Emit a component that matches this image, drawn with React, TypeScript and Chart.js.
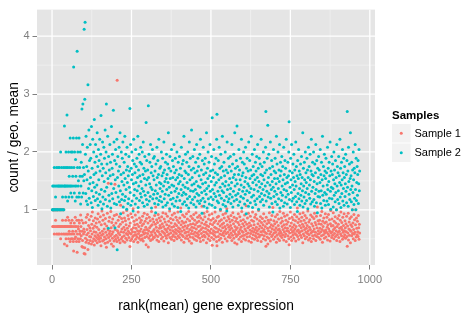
import { useEffect, useRef } from "react";
import { Chart, registerables } from "chart.js";

Chart.register(...registerables);

const FONT = "'Liberation Sans', Arial, Helvetica, sans-serif";

const legendTitle = "Samples";
const seriesNames = ["Sample 1", "Sample 2"];
const seriesColors = ["#F8766D", "#00BFC4"];
const xTitle = "rank(mean) gene expression";
const yTitle = "count / geo. mean";
const xTicks = [0, 250, 500, 750, 1000];
const xMinor = [125, 375, 625, 875];
const yTicks = [1, 2, 3, 4];
const yMinor = [0.5, 1.5, 2.5, 3.5];

// count / geo. mean per gene, in rank(mean) order (rank = index + 1)
const sample1 = [
  1.00, 0.71, 1.00, 1.00, 0.71, 1.00, 0.58, 1.00, 0.71, 1.00, 0.82, 1.00, 0.71, 0.58, 1.00, 1.00, 0.71, 1.00, 0.58, 0.71,
  1.00, 0.71, 0.58, 1.00, 0.71, 1.00, 0.50, 0.71, 1.00, 0.58, 0.71, 1.00, 0.82, 0.71, 1.00, 0.58, 1.00, 0.71, 0.41, 0.71,
  0.58, 0.71, 0.82, 0.50, 0.71, 0.58, 0.38, 0.71, 0.87, 0.58, 0.71, 0.50, 0.82, 0.63, 0.71, 0.58, 0.45, 0.71, 0.77, 0.50,
  0.71, 0.58, 0.82, 0.50, 0.63, 0.71, 0.45, 0.288, 0.58, 0.77, 0.50, 0.71, 0.87, 0.53, 0.63, 0.71, 0.45, 0.82, 0.267, 0.58,
  0.50, 0.71, 0.67, 0.82, 0.45, 0.77, 0.58, 0.63, 0.50, 0.91, 0.71, 0.55, 0.82, 0.365, 0.63, 0.47, 0.353, 0.77, 0.58, 0.67,
  0.243, 0.62, 0.344, 0.236, 0.51, 0.78, 0.44, 0.87, 0.57, 0.66, 0.48, 0.92, 0.316, 0.60, 0.73, 0.42, 0.83, 0.54, 0.69, 0.47,
  0.64, 0.53, 0.89, 0.41, 0.75, 0.58, 0.96, 0.45, 0.68, 0.81, 0.50, 0.62, 0.39, 0.72, 0.55, 0.86, 0.47, 0.61, 0.77, 0.52,
  0.70, 0.43, 0.84, 0.57, 0.93, 0.49, 0.66, 0.54, 0.79, 0.45, 0.60, 0.88, 0.51, 0.38, 0.74, 0.56, 0.98, 0.63, 0.46, 0.82,
  0.58, 0.91, 0.48, 0.67, 0.53, 0.76, 0.42, 0.85, 0.61, 0.50, 0.353, 0.72, 0.56, 0.94, 0.44, 0.65, 1.46, 0.52, 0.80, 0.59,
  0.87, 0.47, 0.63, 0.55, 0.97, 0.69, 0.41, 0.78, 0.58, 0.51, 0.84, 0.62, 0.368, 0.73, 0.46, 0.90, 0.54, 1.44, 0.66, 0.49,
  0.77, 0.56, 0.92, 0.45, 3.24, 0.64, 0.52, 0.82, 0.60, 0.71, 0.48, 0.88, 0.57, 0.43, 0.75, 1.08, 0.62, 0.50, 0.85, 0.67,
  0.53, 0.79, 0.46, 0.95, 0.61, 0.70, 0.55, 0.86, 0.44, 0.65, 0.81, 0.51, 0.74, 0.59, 0.99, 0.48, 0.68, 0.57, 0.90, 0.63,
  0.84, 0.52, 0.72, 0.60, 0.364, 0.77, 0.47, 0.93, 0.58, 0.66, 0.50, 0.87, 0.62, 0.54, 1.02, 0.69, 0.45, 0.80, 0.56, 0.74,
  0.61, 0.91, 0.49, 0.68, 0.57, 0.83, 0.53, 0.75, 0.64, 0.44, 0.96, 0.59, 0.71, 0.51, 0.86, 0.63, 0.55, 0.78, 0.48, 0.67,
  0.82, 0.56, 0.73, 0.50, 0.89, 0.62, 0.46, 0.76, 0.58, 0.94, 0.65, 0.52, 0.80, 0.60, 0.70, 0.398, 0.85, 0.54, 0.66, 0.92,
  0.59, 0.77, 0.357, 0.64, 0.51, 0.87, 0.69, 0.55, 0.81, 0.47, 0.72, 0.61, 0.97, 0.57, 0.74, 0.49, 0.84, 0.63, 0.53, 0.79,
  0.66, 0.52, 0.90, 0.60, 0.75, 1.05, 0.56, 0.70, 0.83, 0.48, 0.64, 0.78, 0.54, 0.92, 0.62, 0.45, 0.86, 0.68, 0.58, 0.73,
  0.81, 0.57, 0.69, 0.50, 0.88, 0.63, 0.76, 0.53, 0.95, 0.61, 0.71, 0.46, 0.84, 0.59, 0.67, 0.79, 0.55, 0.93, 0.65, 0.51,
  0.74, 0.62, 0.89, 0.56, 0.68, 0.43, 0.80, 0.58, 0.72, 0.98, 0.52, 0.65, 0.85, 0.60, 0.77, 0.49, 0.70, 0.91, 0.54, 0.64,
  0.83, 0.57, 0.71, 0.47, 0.94, 0.61, 0.76, 0.53, 0.66, 0.87, 0.59, 0.73, 0.50, 0.82, 0.64, 0.96, 0.55, 0.69, 0.78, 0.62,
  0.52, 0.86, 0.67, 0.58, 1.03, 0.74, 0.48, 0.63, 0.80, 0.56, 0.91, 0.70, 0.54, 0.77, 0.44, 0.65, 0.88, 0.60, 0.72, 0.51,
  0.79, 0.61, 0.93, 0.55, 0.68, 0.84, 0.50, 0.73, 0.62, 0.97, 0.57, 0.46, 0.81, 0.66, 0.53, 0.75, 0.89, 0.59, 0.42, 0.70,
  0.64, 0.85, 0.52, 0.76, 0.58, 0.92, 0.69, 0.49, 0.82, 0.61, 0.74, 0.55, 0.95, 0.67, 0.47, 0.78, 0.60, 0.87, 0.53, 0.71,
  0.57, 0.80, 0.63, 0.90, 0.51, 0.72, 0.45, 0.86, 0.66, 0.59, 0.77, 1.06, 0.54, 0.69, 0.83, 0.48, 0.62, 0.94, 0.56, 0.75,
  0.88, 0.53, 0.68, 0.61, 0.79, 0.43, 0.73, 0.97, 0.58, 0.65, 0.50, 0.84, 0.71, 0.55, 0.91, 0.63, 0.47, 0.76, 0.60, 0.82,
  0.67, 0.52, 0.93, 0.386, 0.74, 0.59, 0.85, 0.64, 0.49, 0.78, 0.56, 0.70, 0.96, 0.61, 0.81, 0.53, 0.68, 0.45, 0.377, 0.87,
  0.62, 0.76, 0.54, 0.89, 0.66, 0.48, 0.80, 0.58, 0.72, 0.99, 0.51, 0.64, 0.83, 0.57, 0.75, 0.44, 0.69, 0.92, 0.60, 0.77,
  0.55, 0.86, 0.63, 0.71, 0.50, 0.94, 0.67, 0.59, 0.81, 1.02, 0.46, 0.74, 0.61, 0.88, 0.53, 0.70, 0.84, 0.57, 0.65, 0.79,
  0.52, 0.73, 0.90, 0.60, 0.68, 0.47, 0.82, 0.56, 0.95, 0.64, 0.76, 0.51, 0.87, 0.62, 0.43, 0.71, 0.58, 0.80, 0.66, 0.54,
  0.85, 0.408, 0.69, 0.57, 0.78, 0.93, 0.62, 0.49, 0.74, 0.59, 0.88, 0.66, 0.53, 0.81, 0.70, 0.45, 0.97, 0.63, 0.55, 0.76,
  0.61, 0.83, 0.50, 0.72, 0.56, 0.91, 0.67, 0.79, 0.48, 0.64, 1.07, 0.58, 0.75, 0.53, 0.86, 0.69, 0.60, 0.94, 0.46, 0.71,
  0.77, 0.54, 0.65, 0.89, 0.59, 0.73, 0.44, 0.82, 0.63, 0.51, 0.96, 0.68, 0.57, 0.80, 0.62, 0.74, 0.49, 0.87, 0.66, 0.55,
  0.92, 0.60, 0.70, 0.52, 0.84, 0.64, 0.47, 0.76, 0.58, 0.99, 0.67, 0.53, 0.81, 0.72, 0.56, 0.88, 0.62, 0.45, 0.78, 0.69,
  0.57, 0.85, 0.63, 0.74, 0.50, 0.93, 0.66, 0.55, 0.80, 0.61, 0.71, 0.48, 0.370, 0.87, 0.59, 0.76, 0.53, 0.68, 0.407, 0.82,
  0.64, 0.51, 0.78, 0.95, 0.58, 0.70, 0.46, 0.83, 0.62, 0.74, 0.54, 0.90, 0.67, 0.57, 1.04, 0.72, 0.49, 0.81, 0.60, 0.65,
  0.76, 0.53, 0.88, 0.61, 0.69, 0.44, 0.79, 0.56, 0.92, 0.65, 0.50, 0.73, 0.84, 0.59, 0.67, 0.47, 0.97, 0.63, 0.55, 0.77,
  0.60, 0.86, 0.52, 0.71, 0.80, 0.57, 0.66, 0.94, 0.48, 0.74, 0.62, 0.89, 0.54, 0.69, 0.58, 0.82, 0.45, 0.75, 0.64, 0.91,
  0.68, 0.55, 0.79, 0.63, 0.50, 0.397, 0.85, 0.60, 0.72, 0.96, 0.53, 0.66, 0.77, 0.47, 0.87, 0.61, 0.70, 0.56, 0.83, 0.64,
  0.51, 0.74, 0.92, 0.59, 0.67, 0.81, 0.46, 0.71, 0.57, 0.88, 0.63, 1.03, 0.54, 0.78, 0.65, 0.49, 0.84, 0.60, 0.73, 0.93,
  0.62, 0.56, 0.80, 0.69, 0.52, 0.87, 0.64, 0.75, 0.43, 0.95, 0.58, 0.71, 0.82, 0.55, 0.66, 0.90, 0.50, 0.77, 0.61, 0.68,
  0.86, 0.53, 0.73, 0.59, 0.98, 0.64, 0.48, 0.79, 0.57, 0.70, 0.83, 0.51, 0.66, 0.91, 0.60, 0.45, 0.76, 0.62, 0.88, 0.55,
  0.72, 0.63, 0.50, 0.85, 0.67, 0.94, 0.56, 0.78, 0.61, 0.47, 0.74, 0.89, 0.54, 0.69, 1.05, 0.58, 0.81, 0.64, 0.52, 0.76,
  0.59, 0.82, 0.68, 0.49, 0.90, 0.62, 0.75, 0.55, 0.97, 0.66, 0.44, 0.80, 0.71, 0.57, 0.86, 0.63, 0.51, 0.77, 0.60, 0.93,
  0.65, 0.53, 0.79, 0.61, 0.87, 0.70, 0.48, 0.74, 0.58, 0.92, 0.67, 0.55, 0.83, 0.63, 0.46, 0.76, 0.99, 0.60, 0.72, 0.52,
  0.84, 0.62, 0.56, 0.73, 0.95, 0.66, 0.50, 0.80, 0.59, 0.69, 0.88, 0.54, 0.77, 0.64, 1.00, 0.47, 0.71, 0.57, 0.85, 0.61,
  0.75, 0.52, 0.90, 0.63, 0.68, 0.45, 0.82, 0.58, 0.96, 0.70, 0.55, 0.78, 0.66, 0.49, 0.87, 0.61, 0.73, 0.53, 0.93, 0.64,
  0.57, 0.81, 0.69, 0.51, 0.76, 0.62, 0.89, 0.54, 0.370, 0.72, 0.60, 0.94, 0.48, 0.67, 0.79, 0.56, 0.85, 0.65, 0.43, 0.74,
  0.63, 0.88, 0.55, 0.71, 1.00, 0.59, 0.77, 0.50, 0.66, 0.92, 0.58, 0.83, 0.61, 0.47, 0.74, 1.00, 0.53, 0.86, 0.68, 0.57,
  0.80, 0.62, 0.54, 0.90, 0.69, 0.49, 0.75, 0.60,
];

const sample2 = [
  1.00, 1.41, 1.00, 1.00, 1.41, 1.00, 1.73, 1.00, 1.41, 1.00, 1.22, 1.00, 1.41, 1.73, 1.00, 1.00, 1.41, 1.00, 1.73, 1.41,
  1.00, 1.41, 1.73, 1.00, 1.41, 1.00, 2.00, 1.41, 1.00, 1.73, 1.41, 1.00, 1.22, 1.41, 1.00, 1.73, 1.00, 1.41, 2.45, 1.41,
  1.73, 1.41, 1.22, 2.00, 1.41, 1.73, 2.64, 1.41, 1.15, 1.73, 1.41, 2.00, 1.22, 1.58, 1.41, 1.73, 2.24, 1.41, 1.29, 2.00,
  1.41, 1.73, 1.22, 2.00, 1.58, 1.41, 2.24, 3.47, 1.73, 1.29, 2.00, 1.41, 1.15, 1.87, 1.58, 1.41, 2.24, 1.22, 3.74, 1.73,
  2.00, 1.41, 1.50, 1.22, 2.24, 1.29, 1.73, 1.58, 2.00, 1.10, 1.41, 1.82, 1.22, 2.74, 1.58, 2.13, 2.83, 1.29, 1.73, 1.50,
  4.12, 1.61, 2.91, 4.24, 1.96, 1.28, 2.27, 1.15, 1.75, 1.52, 2.08, 1.09, 3.16, 1.67, 1.37, 2.38, 1.20, 1.85, 1.45, 2.13,
  1.56, 1.89, 1.12, 2.44, 1.33, 1.72, 1.04, 2.22, 1.47, 1.23, 2.00, 1.61, 2.56, 1.39, 1.82, 1.16, 2.13, 1.64, 1.30, 1.92,
  1.43, 2.33, 1.19, 1.75, 1.08, 2.04, 1.52, 1.85, 1.27, 2.22, 1.67, 1.14, 1.96, 2.63, 1.35, 1.79, 1.02, 1.59, 2.17, 1.22,
  1.72, 1.10, 2.08, 1.49, 1.89, 1.32, 2.38, 1.18, 1.64, 2.00, 2.83, 1.39, 1.79, 1.06, 2.27, 1.54, 0.68, 1.92, 1.25, 1.69,
  1.15, 2.13, 1.59, 1.82, 1.03, 1.45, 2.44, 1.28, 1.72, 1.96, 1.19, 1.61, 2.72, 1.37, 2.17, 1.11, 1.85, 0.69, 1.52, 2.04,
  1.30, 1.79, 1.09, 2.22, 0.31, 1.56, 1.92, 1.22, 1.67, 1.41, 2.08, 1.14, 1.75, 2.33, 1.33, 0.93, 1.61, 2.00, 1.18, 1.49,
  1.89, 1.27, 2.17, 1.05, 1.64, 1.43, 1.82, 1.16, 2.27, 1.54, 1.23, 1.96, 1.35, 1.69, 1.01, 2.08, 1.47, 1.75, 1.11, 1.59,
  1.19, 1.92, 1.39, 1.67, 2.75, 1.30, 2.13, 1.08, 1.72, 1.52, 2.00, 1.15, 1.61, 1.85, 0.98, 1.45, 2.22, 1.25, 1.79, 1.35,
  1.64, 1.10, 2.04, 1.47, 1.75, 1.20, 1.89, 1.33, 1.56, 2.27, 1.04, 1.69, 1.41, 1.96, 1.16, 1.59, 1.82, 1.28, 2.08, 1.49,
  1.22, 1.79, 1.37, 2.00, 1.12, 1.61, 2.17, 1.32, 1.72, 1.06, 1.54, 1.92, 1.25, 1.67, 1.43, 2.51, 1.18, 1.85, 1.52, 1.09,
  1.69, 1.30, 2.80, 1.56, 1.96, 1.15, 1.45, 1.82, 1.23, 2.13, 1.39, 1.64, 1.03, 1.75, 1.35, 2.04, 1.19, 1.59, 1.89, 1.27,
  1.52, 1.92, 1.11, 1.67, 1.33, 0.95, 1.79, 1.43, 1.20, 2.08, 1.56, 1.28, 1.85, 1.09, 1.61, 2.22, 1.16, 1.47, 1.72, 1.37,
  1.23, 1.75, 1.45, 2.00, 1.14, 1.59, 1.32, 1.89, 1.05, 1.64, 1.41, 2.17, 1.19, 1.69, 1.49, 1.27, 1.82, 1.08, 1.54, 1.96,
  1.35, 1.61, 1.12, 1.79, 1.47, 2.33, 1.25, 1.72, 1.39, 1.02, 1.92, 1.54, 1.18, 1.67, 1.30, 2.04, 1.43, 1.10, 1.85, 1.56,
  1.20, 1.75, 1.41, 2.13, 1.06, 1.64, 1.32, 1.89, 1.52, 1.15, 1.69, 1.37, 2.00, 1.22, 1.56, 1.04, 1.82, 1.45, 1.28, 1.61,
  1.92, 1.16, 1.49, 1.72, 0.97, 1.35, 2.08, 1.59, 1.25, 1.79, 1.10, 1.43, 1.85, 1.30, 2.27, 1.54, 1.14, 1.67, 1.39, 1.96,
  1.27, 1.64, 1.08, 1.82, 1.47, 1.19, 2.00, 1.37, 1.61, 1.03, 1.75, 2.17, 1.23, 1.52, 1.89, 1.33, 1.12, 1.69, 2.38, 1.43,
  1.56, 1.18, 1.92, 1.32, 1.72, 1.09, 1.45, 2.04, 1.22, 1.64, 1.35, 1.82, 1.05, 1.49, 2.13, 1.28, 1.67, 1.15, 1.89, 1.41,
  1.75, 1.25, 1.59, 1.11, 1.96, 1.39, 2.22, 1.16, 1.52, 1.69, 1.30, 0.94, 1.85, 1.45, 1.20, 2.08, 1.61, 1.06, 1.79, 1.33,
  1.14, 1.89, 1.47, 1.64, 1.27, 2.33, 1.37, 1.03, 1.72, 1.54, 2.00, 1.19, 1.41, 1.82, 1.10, 1.59, 2.13, 1.32, 1.67, 1.22,
  1.49, 1.92, 1.08, 2.59, 1.35, 1.69, 1.18, 1.56, 2.04, 1.28, 1.79, 1.43, 1.04, 1.64, 1.23, 1.89, 1.47, 2.22, 2.65, 1.15,
  1.61, 1.32, 1.85, 1.12, 1.52, 2.08, 1.25, 1.72, 1.39, 1.01, 1.96, 1.56, 1.20, 1.75, 1.33, 2.27, 1.45, 1.09, 1.67, 1.30,
  1.82, 1.16, 1.59, 1.41, 2.00, 1.06, 1.49, 1.69, 1.23, 0.98, 2.17, 1.35, 1.64, 1.14, 1.89, 1.43, 1.19, 1.75, 1.54, 1.27,
  1.92, 1.37, 1.11, 1.67, 1.47, 2.13, 1.22, 1.79, 1.05, 1.56, 1.32, 1.96, 1.15, 1.61, 2.33, 1.41, 1.72, 1.25, 1.52, 1.85,
  1.18, 2.45, 1.45, 1.75, 1.28, 1.08, 1.61, 2.04, 1.35, 1.69, 1.14, 1.52, 1.89, 1.23, 1.43, 2.22, 1.03, 1.59, 1.82, 1.32,
  1.64, 1.20, 2.00, 1.39, 1.79, 1.10, 1.49, 1.27, 2.08, 1.56, 0.93, 1.72, 1.33, 1.89, 1.16, 1.45, 1.67, 1.06, 2.17, 1.41,
  1.30, 1.85, 1.54, 1.12, 1.69, 1.37, 2.27, 1.22, 1.59, 1.96, 1.04, 1.47, 1.75, 1.25, 1.61, 1.35, 2.04, 1.15, 1.52, 1.82,
  1.09, 1.67, 1.43, 1.92, 1.19, 1.56, 2.13, 1.32, 1.72, 1.01, 1.49, 1.89, 1.23, 1.39, 1.79, 1.14, 1.61, 2.22, 1.28, 1.45,
  1.75, 1.18, 1.59, 1.35, 2.00, 1.08, 1.52, 1.82, 1.25, 1.64, 1.41, 2.08, 2.70, 1.15, 1.69, 1.32, 1.89, 1.47, 2.46, 1.22,
  1.56, 1.96, 1.28, 1.05, 1.72, 1.43, 2.17, 1.20, 1.61, 1.35, 1.85, 1.11, 1.49, 1.75, 0.96, 1.39, 2.04, 1.23, 1.67, 1.54,
  1.32, 1.89, 1.14, 1.64, 1.45, 2.27, 1.27, 1.79, 1.09, 1.54, 2.00, 1.37, 1.19, 1.69, 1.49, 2.13, 1.03, 1.59, 1.82, 1.30,
  1.67, 1.16, 1.92, 1.41, 1.25, 1.75, 1.52, 1.06, 2.08, 1.35, 1.61, 1.12, 1.85, 1.45, 1.72, 1.22, 2.22, 1.33, 1.56, 1.10,
  1.47, 1.82, 1.27, 1.59, 2.00, 2.52, 1.18, 1.67, 1.39, 1.04, 1.89, 1.52, 1.30, 2.13, 1.15, 1.64, 1.43, 1.79, 1.20, 1.56,
  1.96, 1.35, 1.09, 1.69, 1.49, 1.23, 2.17, 1.41, 1.75, 1.14, 1.59, 0.97, 1.85, 1.28, 1.54, 2.04, 1.19, 1.67, 1.37, 1.08,
  1.61, 1.79, 1.25, 1.45, 1.92, 1.15, 1.56, 1.33, 2.33, 1.05, 1.72, 1.41, 1.22, 1.82, 1.52, 1.11, 2.00, 1.30, 1.64, 1.47,
  1.16, 1.89, 1.37, 1.69, 1.02, 1.56, 2.08, 1.27, 1.75, 1.43, 1.20, 1.96, 1.52, 1.10, 1.67, 2.22, 1.32, 1.61, 1.14, 1.82,
  1.39, 1.59, 2.00, 1.18, 1.49, 1.06, 1.79, 1.28, 1.64, 2.13, 1.35, 1.12, 1.85, 1.45, 0.95, 1.72, 1.23, 1.56, 1.92, 1.32,
  1.69, 1.22, 1.47, 2.04, 1.11, 1.61, 1.33, 1.82, 1.03, 1.52, 2.27, 1.25, 1.41, 1.75, 1.16, 1.59, 1.96, 1.30, 1.67, 1.08,
  1.54, 1.89, 1.27, 1.64, 1.15, 1.43, 2.08, 1.35, 1.72, 1.09, 1.49, 1.82, 1.20, 1.59, 2.17, 1.32, 1.01, 1.67, 1.39, 1.92,
  1.19, 1.61, 1.79, 1.37, 1.05, 1.52, 2.00, 1.25, 1.69, 1.45, 1.14, 1.85, 1.30, 1.56, 1.00, 2.13, 1.41, 1.75, 1.18, 1.64,
  1.33, 1.92, 1.11, 1.59, 1.47, 2.22, 1.22, 1.72, 1.04, 1.43, 1.82, 1.28, 1.52, 2.04, 1.15, 1.64, 1.37, 1.89, 1.08, 1.56,
  1.75, 1.23, 1.45, 1.96, 1.32, 1.61, 1.12, 1.85, 2.70, 1.39, 1.67, 1.06, 2.08, 1.49, 1.27, 1.79, 1.18, 1.54, 2.33, 1.35,
  1.59, 1.14, 1.82, 1.41, 1.00, 1.69, 1.30, 2.00, 1.52, 1.09, 1.72, 1.20, 1.64, 2.13, 1.35, 1.00, 1.89, 1.16, 1.47, 1.75,
  1.25, 1.61, 1.85, 1.11, 1.45, 2.04, 1.33, 1.67,
];

const X_MIN = -47.35;
const X_MAX = 1016.35;
const Y_MIN = 0.046;
const Y_MAX = 4.46;

const panelPlugin = {
  id: "ggPanel",
  beforeDatasetsDraw(chart: any) {
    const { ctx, chartArea: a, scales } = chart;
    const x = scales.x;
    const y = scales.y;
    ctx.save();
    ctx.fillStyle = "#E5E5E5";
    ctx.fillRect(a.left, a.top, a.right - a.left, a.bottom - a.top);
    ctx.beginPath();
    ctx.rect(a.left, a.top, a.right - a.left, a.bottom - a.top);
    ctx.clip();
    ctx.strokeStyle = "#F2F2F2";
    ctx.lineWidth = 0.7;
    ctx.beginPath();
    for (const v of xMinor) {
      const p = x.getPixelForValue(v);
      ctx.moveTo(p, a.top);
      ctx.lineTo(p, a.bottom);
    }
    for (const v of yMinor) {
      const p = y.getPixelForValue(v);
      ctx.moveTo(a.left, p);
      ctx.lineTo(a.right, p);
    }
    ctx.stroke();
    ctx.strokeStyle = "#FFFFFF";
    ctx.lineWidth = 1.3;
    ctx.beginPath();
    for (const v of xTicks) {
      const p = x.getPixelForValue(v);
      ctx.moveTo(p, a.top);
      ctx.lineTo(p, a.bottom);
    }
    for (const v of yTicks) {
      const p = y.getPixelForValue(v);
      ctx.moveTo(a.left, p);
      ctx.lineTo(a.right, p);
    }
    ctx.stroke();
    ctx.restore();
  },
  afterDraw(chart: any) {
    const { ctx } = chart;
    ctx.save();
    const left = 392;
    ctx.fillStyle = "#000000";
    ctx.font = `bold 11.5px ${FONT}`;
    ctx.textBaseline = "middle";
    ctx.textAlign = "left";
    ctx.fillText(legendTitle, left, 115.5);
    const size = 18.5;
    const tops = [124, 143.5];
    seriesNames.forEach((name, i) => {
      const top = tops[i];
      ctx.fillStyle = "#F2F2F2";
      ctx.fillRect(left, top, size, size);
      ctx.fillStyle = seriesColors[i];
      ctx.beginPath();
      ctx.arc(left + size / 2, top + size / 2, 1.5, 0, Math.PI * 2);
      ctx.fill();
      ctx.fillStyle = "#000000";
      ctx.font = `11px ${FONT}`;
      ctx.fillText(name, 414.5, top + size / 2 + 0.5);
    });
    ctx.restore();
  },
};

export default function App() {
  const ref = useRef<HTMLCanvasElement | null>(null);

  useEffect(() => {
    document.body.style.margin = "0";
    const canvas = ref.current;
    if (!canvas) return;
    const toPoints = (arr: number[]) => arr.map((v, i) => ({ x: i + 1, y: v }));
    const tickColor = "#7F7F7F";
    const chart = new Chart(canvas, {
      type: "scatter",
      data: {
        datasets: [
          {
            label: seriesNames[0],
            data: toPoints(sample1),
            backgroundColor: seriesColors[0],
            borderWidth: 0,
            pointRadius: 1.5,
            order: 1,
          },
          {
            label: seriesNames[1],
            data: toPoints(sample2),
            backgroundColor: seriesColors[1],
            borderWidth: 0,
            pointRadius: 1.5,
            order: 0,
          },
        ],
      },
      options: {
        animation: false,
        responsive: false,
        devicePixelRatio: 1,
        layout: { padding: { left: 0, top: 6, right: 89, bottom: 0 } },
        plugins: { legend: { display: false }, tooltip: { enabled: false } },
        scales: {
          x: {
            type: "linear",
            min: X_MIN,
            max: X_MAX,
            afterBuildTicks: (s: any) => {
              s.ticks = xTicks.map((v) => ({ value: v }));
            },
            afterFit: (s: any) => {
              s.height = 49;
            },
            grid: {
              drawOnChartArea: false,
              drawTicks: true,
              tickLength: 4.5,
              color: tickColor,
              lineWidth: 1,
            },
            border: { display: false },
            ticks: {
              color: tickColor,
              font: { size: 11, family: FONT },
              padding: 4,
              maxRotation: 0,
              autoSkip: false,
              callback: (v: any) => String(v),
            },
            title: {
              display: true,
              text: xTitle,
              color: "#000000",
              font: { size: 13.8, family: FONT },
              padding: 0,
            },
          },
          y: {
            type: "linear",
            min: Y_MIN,
            max: Y_MAX,
            afterBuildTicks: (s: any) => {
              s.ticks = yTicks.map((v) => ({ value: v }));
            },
            afterFit: (s: any) => {
              s.width = 37;
            },
            grid: {
              drawOnChartArea: false,
              drawTicks: true,
              tickLength: 4.5,
              color: tickColor,
              lineWidth: 1,
            },
            border: { display: false },
            ticks: {
              color: tickColor,
              font: { size: 11, family: FONT },
              padding: 3,
              autoSkip: false,
              callback: (v: any) => String(v),
            },
            title: {
              display: true,
              text: yTitle,
              color: "#000000",
              font: { size: 13.8, family: FONT },
              padding: { top: 5.6, bottom: 0 },
            },
          },
        },
      },
      plugins: [panelPlugin],
    });
    return () => chart.destroy();
  }, []);

  return (
    <div style={{ width: 464, height: 314 }}>
      <canvas ref={ref} width={464} height={314} style={{ display: "block", width: 464, height: 314 }} />
    </div>
  );
}
